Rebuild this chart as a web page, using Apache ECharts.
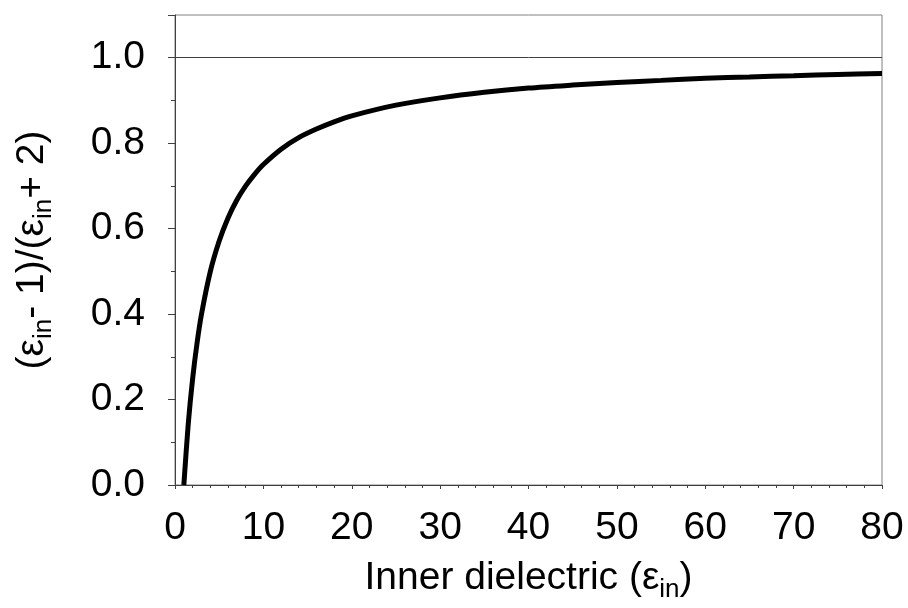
<!DOCTYPE html>
<html>
<head>
<meta charset="utf-8">
<script src="https://cdn.jsdelivr.net/npm/echarts@6/dist/echarts.min.js"></script>
<style>
  html, body { margin: 0; padding: 0; background: #fff; }
  #chart { width: 908px; height: 608px; }
</style>
</head>
<body>
<div id="chart"></div>
<script>
// values
const epsIn = [1, 1.5, 2, 2.5, 3, 4, 5, 6, 7, 8, 9, 10, 12, 14, 16, 18, 20, 25, 30, 35, 40, 45, 50, 55, 60, 65, 70, 75, 80];
const ratio = [0, 0.143, 0.25, 0.333, 0.4, 0.5, 0.571, 0.625, 0.667, 0.7, 0.727, 0.75, 0.786, 0.813, 0.833, 0.85, 0.864,
  0.889, 0.906, 0.919, 0.929, 0.936, 0.942, 0.947, 0.952, 0.955, 0.958, 0.961, 0.963];
const refLine = 1.0;

const font = 'Liberation Sans, Arial, sans-serif';
const axisColor = '#404040';

const richSub = {
  t: { fontSize: 39, fontFamily: font, color: '#000', lineHeight: 50 },
  s: { fontSize: 26, fontFamily: font, color: '#000', lineHeight: 50, verticalAlign: 'bottom' }
};

const chart = echarts.init(document.getElementById('chart'));

chart.setOption({
  animation: false,
  backgroundColor: '#fff',
  grid: {
    left: 175, right: 26, top: 15, bottom: 122,
    show: true, borderColor: '#808080', borderWidth: 1
  },
  xAxis: {
    type: 'value',
    min: 0, max: 80, interval: 10,
    name: '{t|Inner dielectric (ε}{s|in}{t|)}',
    nameLocation: 'middle',
    nameGap: 68,
    nameTextStyle: { rich: richSub },
    axisLine: { show: true, lineStyle: { color: axisColor, width: 1 } },
    axisTick: { show: true, inside: false, length: 4, lineStyle: { color: axisColor } },
    minorTick: { show: true, splitNumber: 5, length: 3, lineStyle: { color: axisColor } },
    axisLabel: { fontSize: 39, fontFamily: font, color: '#000', margin: 24 },
    splitLine: { show: false }
  },
  yAxis: {
    type: 'value',
    min: 0, max: 1.1, interval: 0.2,
    name: '{t|(ε}{s|in}{t|- 1)/(ε}{s|in}{t|+ 2)}',
    nameLocation: 'middle',
    nameGap: 118,
    nameTextStyle: { rich: richSub },
    axisLine: { show: true, lineStyle: { color: axisColor, width: 1 } },
    axisTick: { show: true, inside: false, length: 7, lineStyle: { color: axisColor } },
    minorTick: { show: true, splitNumber: 2, length: 4, lineStyle: { color: axisColor } },
    axisLabel: {
      fontSize: 39, fontFamily: font, color: '#000', margin: 30,
      showMaxLabel: false,
      formatter: v => v.toFixed(1)
    },
    splitLine: { show: false }
  },
  series: [{
    type: 'line',
    data: epsIn.map((x, i) => [x, ratio[i]]),
    smooth: 0.3,
    showSymbol: false,
    lineStyle: { color: '#000', width: 5 },
    markLine: {
      silent: true,
      symbol: 'none',
      label: { show: false },
      lineStyle: { color: axisColor, width: 1, type: 'solid' },
      data: [{ yAxis: refLine }]
    }
  }]
});
</script>
</body>
</html>
